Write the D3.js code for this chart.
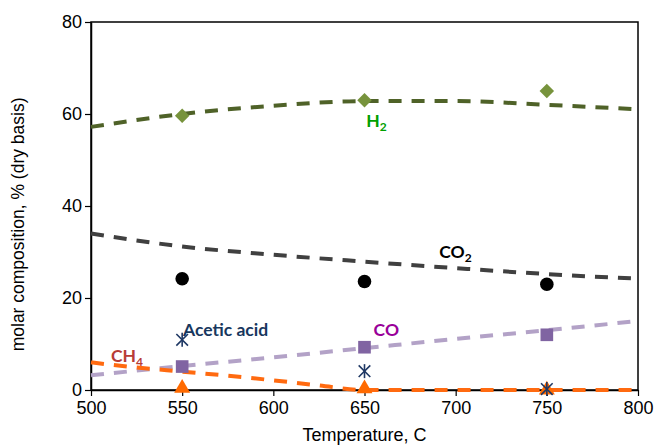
<!DOCTYPE html>
<html>
<head>
<meta charset="utf-8">
<script src="https://cdn.jsdelivr.net/npm/d3@7"></script>
<style>
  body { margin: 0; background: #fff; }
  text { font-family: "Liberation Sans", Arial, sans-serif; }
  .lbl { font-family: Lato, "Open Sans", sans-serif; font-weight: bold; }
</style>
</head>
<body>
<div id="chart"></div>
<script>
// chart size
var width = 654;
var height = 447;
var margin = { top: 22, right: 16, bottom: 57, left: 91 };

// measured points
var temps = [550, 650, 750];
var h2 = [59.6, 63, 65];
var co2 = [24.2, 23.6, 23];
var co = [5.1, 9.3, 12];
var ch4 = [0.4, 0.3, 0];
var acetic = [10.9, 4.1, 0.2];

// trend lines
var trendT = [500, 550, 600, 650, 700, 750, 800];
var h2Trend = [57.2, 60, 61.8, 62.8, 62.8, 62, 61];
var co2Trend = [34, 31.2, 29.4, 27.9, 26.5, 25.2, 24.2];
var coTrend = [3.2, 5.2, 7.1, 9.1, 11.1, 13.0, 15];
var ch4T = [500, 525, 550, 575, 600, 625, 650, 700, 750, 800];
var ch4Trend = [6, 4.9, 4.0, 3.1, 2.1, 1.0, 0, 0, 0, 0];

var xTicks = [500, 550, 600, 650, 700, 750, 800];
var yTicks = [0, 20, 40, 60, 80];

var svg = d3
  .select("#chart")
  .append("svg")
  .attr("width", width)
  .attr("height", height);

var x = d3.scaleLinear().domain([500, 800]).range([margin.left, width - margin.right]);
var y = d3.scaleLinear().domain([0, 80]).range([height - margin.bottom, margin.top]);

// frame
svg
  .append("rect")
  .attr("x", x(500))
  .attr("y", y(80))
  .attr("width", x(800) - x(500))
  .attr("height", y(0) - y(80))
  .style("fill", "none")
  .style("stroke", "#000")
  .style("stroke-width", 1.5);

// axes
var xAxis = svg
  .append("g")
  .attr("transform", "translate(0," + y(0) + ")")
  .call(d3.axisBottom(x).tickValues(xTicks).tickSize(6).tickSizeOuter(0).tickFormat(d3.format("d")));

var yAxis = svg
  .append("g")
  .attr("transform", "translate(" + x(500) + ",0)")
  .call(d3.axisLeft(y).tickValues(yTicks).tickSize(6).tickSizeOuter(0));

[xAxis, yAxis].forEach(function (a) {
  a.select(".domain").style("stroke", "#000").style("stroke-width", 1.5);
  a.selectAll(".tick line").style("stroke", "#000").style("stroke-width", 1.2);
  a.selectAll("text")
    .style("font-size", "18px")
    .style("fill", "#000")
    .style("font-family", "Liberation Sans, Arial, sans-serif");
});
xAxis.selectAll("text").attr("dy", "1em").attr("y", 6);
yAxis.selectAll("text").attr("x", -9);

// axis titles
svg
  .append("text")
  .attr("x", (x(500) + x(800)) / 2)
  .attr("y", 441)
  .attr("text-anchor", "middle")
  .style("font-size", "18px")
  .text("Temperature, C");

svg
  .append("text")
  .attr("transform", "translate(24," + y(36) + ") rotate(-90)")
  .attr("text-anchor", "middle")
  .style("font-size", "17.5px")
  .text("molar composition, % (dry basis)");

// dashed trend lines
function trend(xs, ys, color) {
  var line = d3
    .line()
    .x(function (d, i) { return x(xs[i]); })
    .y(function (d) { return y(d); })
    .curve(d3.curveMonotoneX);
  svg
    .append("path")
    .datum(ys)
    .attr("d", line)
    .style("fill", "none")
    .style("stroke", color)
    .style("stroke-width", 4)
    .style("stroke-dasharray", "13,10");
}

trend(trendT, coTrend, "#b3a2c7");
trend(ch4T, ch4Trend, "#ff6a10");
trend(trendT, co2Trend, "#404040");
trend(trendT, h2Trend, "#4f6228");

// markers
function markers(vals, shape, size, color, rot) {
  svg
    .append("g")
    .selectAll("path")
    .data(vals)
    .enter()
    .append("path")
    .attr("transform", function (d, i) {
      return "translate(" + x(temps[i]) + "," + y(d) + ") rotate(" + (rot || 0) + ")";
    })
    .attr("d", d3.symbol().type(shape).size(size))
    .style("fill", color);
}

markers(ch4, d3.symbolTriangle, 110, "#ff6a00");
markers(co, d3.symbolSquare, 160, "#8064a2");
markers(co2, d3.symbolCircle, 145, "#000");
markers(h2, d3.symbolSquare, 105, "#77933c", 45);

// acetic acid asterisks
svg
  .append("g")
  .selectAll("path")
  .data(acetic)
  .enter()
  .append("path")
  .attr("transform", function (d, i) {
    return "translate(" + x(temps[i]) + "," + y(d) + ")";
  })
  .attr("d", d3.symbol().type(d3.symbolTimes).size(90))
  .style("fill", "none")
  .style("stroke", "#1f3864")
  .style("stroke-width", 1.6);
svg
  .append("g")
  .selectAll("line")
  .data(acetic)
  .enter()
  .append("line")
  .attr("x1", function (d, i) { return x(temps[i]); })
  .attr("x2", function (d, i) { return x(temps[i]); })
  .attr("y1", function (d) { return y(d) - 7; })
  .attr("y2", function (d) { return y(d) + 7; })
  .style("stroke", "#1f3864")
  .style("stroke-width", 1.6);

// series labels
function label(t, v, main, sub, color) {
  var txt = svg
    .append("text")
    .attr("class", "lbl")
    .attr("x", x(t))
    .attr("y", y(v))
    .style("font-size", "17.5px")
    .style("fill", color)
    .text(main);
  if (sub) {
    txt
      .append("tspan")
      .attr("dy", 4)
      .style("font-size", "12px")
      .text(sub);
  }
}

label(651, 57.2, "H", "2", "#00a000");
label(691, 28.6, "CO", "2", "#000");
label(550.5, 11.7, "Acetic acid", null, "#17375e");
label(655, 11.7, "CO", null, "#990099");
label(511, 6.1, "CH", "4", "#b83c36");
</script>
</body>
</html>
